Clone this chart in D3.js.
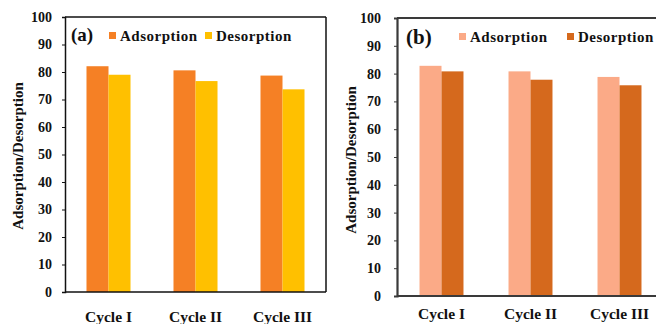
<!DOCTYPE html>
<html>
<head>
<meta charset="utf-8">
<script src="https://cdn.jsdelivr.net/npm/d3@7/dist/d3.min.js"></script>
<style>
  html, body { margin: 0; padding: 0; background: #fff; }
  svg { display: block; }
  svg text { font-family: "Liberation Serif", "Times New Roman", Times, "DejaVu Serif", serif !important; font-weight: bold; fill: #111; }
</style>
</head>
<body>
<svg id="chart" width="656" height="324"></svg>
<script>
// Cycles and percentages for the two panels
const cycles = ["Cycle I", "Cycle II", "Cycle III"];
const seriesNames = ["Adsorption", "Desorption"];
const adsorptionA = [82.1, 80.6, 78.7];
const desorptionA = [79.0, 76.7, 73.7];
const adsorptionB = [82.8, 80.8, 78.8];
const desorptionB = [80.8, 77.8, 75.8];
const yTicks = [0, 10, 20, 30, 40, 50, 60, 70, 80, 90, 100];
const yTitle = "Adsorption/Desorption";

const svg = d3.select("#chart");

function drawPanel(cfg) {
  const g = svg.append("g");
  const x = d3.scaleBand().domain(cycles).range([cfg.left, cfg.right])
    .paddingInner(cfg.pad).paddingOuter(cfg.pad / 2);
  const xs = d3.scaleBand().domain(seriesNames).range([0, x.bandwidth()]);
  const y = d3.scaleLinear().domain([0, 100]).range([cfg.bottom, cfg.top]);

  // bars
  const rows = cycles.map((c, i) => ({ c, vals: [cfg.ads[i], cfg.des[i]] }));
  g.selectAll("g.grp").data(rows).join("g")
    .attr("class", "grp")
    .attr("transform", d => `translate(${x(d.c)},0)`)
    .selectAll("rect").data(d => d.vals.map((v, k) => ({ v, k })))
    .join("rect")
    .attr("x", d => xs(seriesNames[d.k]))
    .attr("width", xs.bandwidth())
    .attr("y", d => y(d.v))
    .attr("height", d => y(0) - y(d.v))
    .attr("fill", d => cfg.colors[d.k]);

  // frame
  g.append("line").attr("x1", cfg.left).attr("x2", cfg.frameRight)
    .attr("y1", cfg.top).attr("y2", cfg.top)
    .attr("stroke", cfg.axisColor).attr("stroke-width", cfg.frameWidth);
  if (cfg.closed) {
    g.append("line").attr("x1", cfg.right).attr("x2", cfg.right)
      .attr("y1", cfg.top).attr("y2", cfg.bottom)
      .attr("stroke", cfg.axisColor).attr("stroke-width", cfg.frameWidth);
  }

  // y axis
  const ya = g.append("g").attr("transform", `translate(${cfg.left},0)`)
    .call(d3.axisLeft(y).tickValues(yTicks).tickSize(3).tickPadding(cfg.tickPad));
  ya.attr("font-family", null).attr("font-size", null);
  ya.select(".domain").attr("stroke", cfg.axisColor).attr("stroke-width", cfg.axisWidth);
  ya.selectAll(".tick line").attr("stroke", cfg.axisColor).attr("stroke-width", 1);
  ya.selectAll(".tick text").style("font-size", "14px").attr("fill", "#111");

  // x axis
  const xa = g.append("g").attr("transform", `translate(0,${cfg.bottom})`)
    .call(d3.axisBottom(x).tickSize(0).tickPadding(cfg.catPad));
  xa.attr("font-family", null).attr("font-size", null);
  xa.select(".domain").attr("stroke", cfg.axisColor).attr("stroke-width", cfg.axisWidth)
    .attr("d", `M${cfg.left},0H${cfg.frameRight}`);
  xa.selectAll(".tick text").style("font-size", "15.5px").attr("fill", "#111");

  // y title
  g.append("text")
    .attr("transform", `translate(${cfg.titleX},${cfg.titleY}) rotate(-90)`)
    .attr("text-anchor", "middle")
    .style("font-size", "15px")
    .text(yTitle);

  // panel letter
  g.append("text").attr("x", cfg.letterX).attr("y", cfg.letterY)
    .style("font-size", cfg.letterSize + "px").text(cfg.letter);

  // legend
  seriesNames.forEach((name, k) => {
    g.append("rect").attr("x", cfg.legX[k]).attr("y", cfg.legY - 9)
      .attr("width", 7).attr("height", 7).attr("fill", cfg.colors[k]);
    g.append("text").attr("x", cfg.legX[k] + 11).attr("y", cfg.legY)
      .style("font-size", "15px").style("letter-spacing", "0.5px").text(name);
  });
}

drawPanel({
  left: 65, right: 326, frameRight: 326, top: 17, bottom: 292, pad: 0.494,
  ads: adsorptionA, des: desorptionA,
  colors: ["#F58025", "#FFC000"],
  axisColor: "#111", axisWidth: 1.5, frameWidth: 1.5, closed: true,
  tickPad: 10, catPad: 19,
  titleX: 23, titleY: 156,
  letter: "(a)", letterX: 71, letterY: 41, letterSize: 19,
  legX: [109, 205], legY: 41
});

drawPanel({
  left: 397, right: 664, frameRight: 660, top: 18, bottom: 296, pad: 0.506,
  ads: adsorptionB, des: desorptionB,
  colors: ["#FBAA87", "#D5691D"],
  axisColor: "#3a3a3a", axisWidth: 2.2, frameWidth: 2.2, closed: false,
  tickPad: 13, catPad: 12,
  titleX: 356, titleY: 160,
  letter: "(b)", letterX: 406, letterY: 44, letterSize: 21,
  legX: [459, 567], legY: 42
});
</script>
</body>
</html>
